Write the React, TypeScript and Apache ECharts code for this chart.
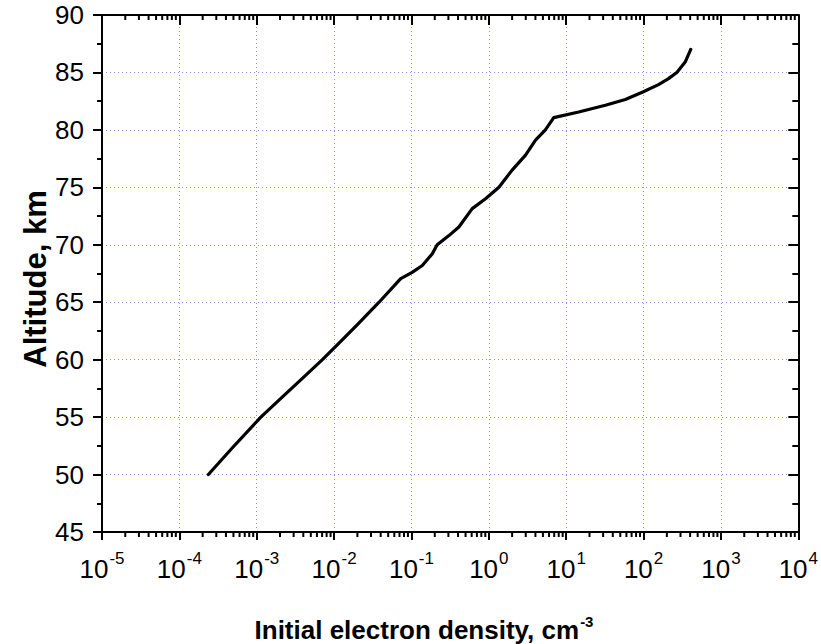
import React, { useEffect, useRef } from "react";
import * as echarts from "echarts";

// Electron density (cm^-3) vs altitude (km)
const density: number[] = [
  2.37e-4, 4.95e-4, 1.13e-3, 2.15e-3, 3.86e-3, 7.06e-3, 0.0114, 0.0206, 0.0381,
  0.0726, 0.102, 0.138, 0.185, 0.215, 0.305, 0.41, 0.61, 0.906, 1.35, 2.0,
  2.98, 4.01, 5.38, 6.9, 14.5, 32.1, 58.1, 97.7, 156, 210, 269, 345, 407,
];
const altitude: number[] = [
  50, 52.4, 55, 56.76, 58.35, 60, 61.4, 63.14, 65, 67.06, 67.6, 68.2, 69.2,
  70.0, 70.8, 71.55, 73.15, 74.0, 75.0, 76.5, 77.8, 79.1, 80.0, 81.07, 81.56,
  82.14, 82.64, 83.3, 83.94, 84.46, 85.0, 85.9, 87.0,
];

const xMin = 1e-5;
const xMax = 1e4;
const yMin = 45;
const yMax = 90;
const yStep = 5;
const xTitle = "Initial electron density, cm";
const xTitleSup = "-3";
const yTitle = "Altitude, km";

const FONT = "Liberation Sans, Arial, sans-serif";

export default function App() {
  const ref = useRef<HTMLDivElement>(null);
  useEffect(() => {
    if (!ref.current) return;
    const chart = echarts.init(ref.current, null, { renderer: "svg" });
    const eMin = Math.round(Math.log10(xMin));
    const eMax = Math.round(Math.log10(xMax));
    // minor tick values 2..9 x 10^d
    const minorVals: number[][] = [];
    for (let d = eMin; d < eMax; d++) {
      for (let k = 2; k <= 9; k++) minorVals.push([k * Math.pow(10, d), yMin]);
    }
    const grid = { left: 102, top: 15, right: 22, bottom: 112 };
    const gridLine = {
      show: true,
      lineStyle: { color: "#8a8aff", width: 1, type: [1, 3] as any },
    };
    const black = { color: "#000", width: 2 };
    chart.setOption({
      animation: false,
      backgroundColor: "#fff",
      grid,
      xAxis: [
        {
          type: "log",
          logBase: 10,
          min: xMin,
          max: xMax,
          position: "bottom",
          axisLine: { show: true, onZero: false, lineStyle: black },
          axisTick: { show: true, inside: false, length: 8, lineStyle: black },
          splitLine: gridLine,
          axisLabel: {
            margin: 18,
            formatter: (v: number) => `{b|10}{s|${Math.round(Math.log10(v))}}`,
            rich: {
              b: { fontFamily: FONT, fontSize: 26, color: "#000", verticalAlign: "bottom" },
              s: {
                fontFamily: FONT,
                fontSize: 17,
                color: "#000",
                verticalAlign: "bottom",
                padding: [0, 0, 15, 1],
              },
            },
          },
        },
        {
          type: "log",
          logBase: 10,
          min: xMin,
          max: xMax,
          position: "top",
          axisLine: { show: true, onZero: false, lineStyle: black },
          axisTick: { show: true, inside: true, length: 10, lineStyle: black },
          axisLabel: { show: false },
          splitLine: { show: false },
        },
      ],
      yAxis: [
        {
          type: "value",
          min: yMin,
          max: yMax,
          interval: yStep,
          position: "left",
          axisLine: { show: true, onZero: false, lineStyle: black },
          axisTick: { show: true, inside: false, length: 9, lineStyle: black },
          minorTick: { show: true, splitNumber: 2, length: 5, lineStyle: black },
          splitLine: gridLine,
          axisLabel: {
            margin: 18,
            fontFamily: FONT,
            fontSize: 26,
            color: "#000",
          },
        },
        {
          type: "value",
          min: yMin,
          max: yMax,
          interval: yStep,
          position: "right",
          axisLine: { show: true, onZero: false, lineStyle: black },
          axisTick: { show: true, inside: true, length: 10, lineStyle: black },
          minorTick: { show: true, splitNumber: 2, length: 6, lineStyle: black },
          splitLine: { show: false },
          axisLabel: { show: false },
        },
      ],
      graphic: [
        {
          type: "text",
          x: 424,
          y: 628,
          style: {
            text: `{t|${xTitle}}{s|${xTitleSup}}`,
            align: "center",
            verticalAlign: "middle",
            textAlign: "center",
            textVerticalAlign: "middle",
            rich: {
              t: {
                fontFamily: FONT,
                fontWeight: "bold",
                fontSize: 26,
                fill: "#000",
                color: "#000",
                verticalAlign: "bottom",
              },
              s: {
                fontFamily: FONT,
                fontWeight: "bold",
                fontSize: 15,
                fill: "#000",
                color: "#000",
                verticalAlign: "bottom",
                padding: [0, 0, 14, 1],
              },
            },
          },
        },
        {
          type: "text",
          x: 35,
          y: 279,
          rotation: Math.PI / 2,
          style: {
            text: yTitle,
            font: `bold 31px ${FONT}`,
            fill: "#000",
            align: "center",
            verticalAlign: "middle",
            textAlign: "center",
            textVerticalAlign: "middle",
          },
        },
      ],
      series: [
        {
          type: "custom",
          xAxisIndex: 0,
          yAxisIndex: 0,
          clip: false,
          silent: true,
          data: minorVals,
          renderItem: (params: any, api: any) => {
            const b = api.coord([api.value(0), yMin]);
            const t = api.coord([api.value(0), yMax]);
            return {
              type: "group",
              children: [
                {
                  type: "line",
                  shape: { x1: b[0], y1: b[1], x2: b[0], y2: b[1] + 5 },
                  style: { stroke: "#000", lineWidth: 2 },
                },
                {
                  type: "line",
                  shape: { x1: t[0], y1: t[1], x2: t[0], y2: t[1] + 5 },
                  style: { stroke: "#000", lineWidth: 2 },
                },
              ],
            };
          },
        },
        {
          type: "line",
          xAxisIndex: 0,
          yAxisIndex: 0,
          data: density.map((d, i) => [d, altitude[i]]),
          showSymbol: false,
          symbol: "none",
          lineStyle: { color: "#000", width: 3.2, join: "round", cap: "round" },
        },
      ],
    });
    return () => chart.dispose();
  }, []);
  return (
    <div
      ref={ref}
      style={{ position: "fixed", left: 0, top: 0, width: 821, height: 644, background: "#fff" }}
    />
  );
}
